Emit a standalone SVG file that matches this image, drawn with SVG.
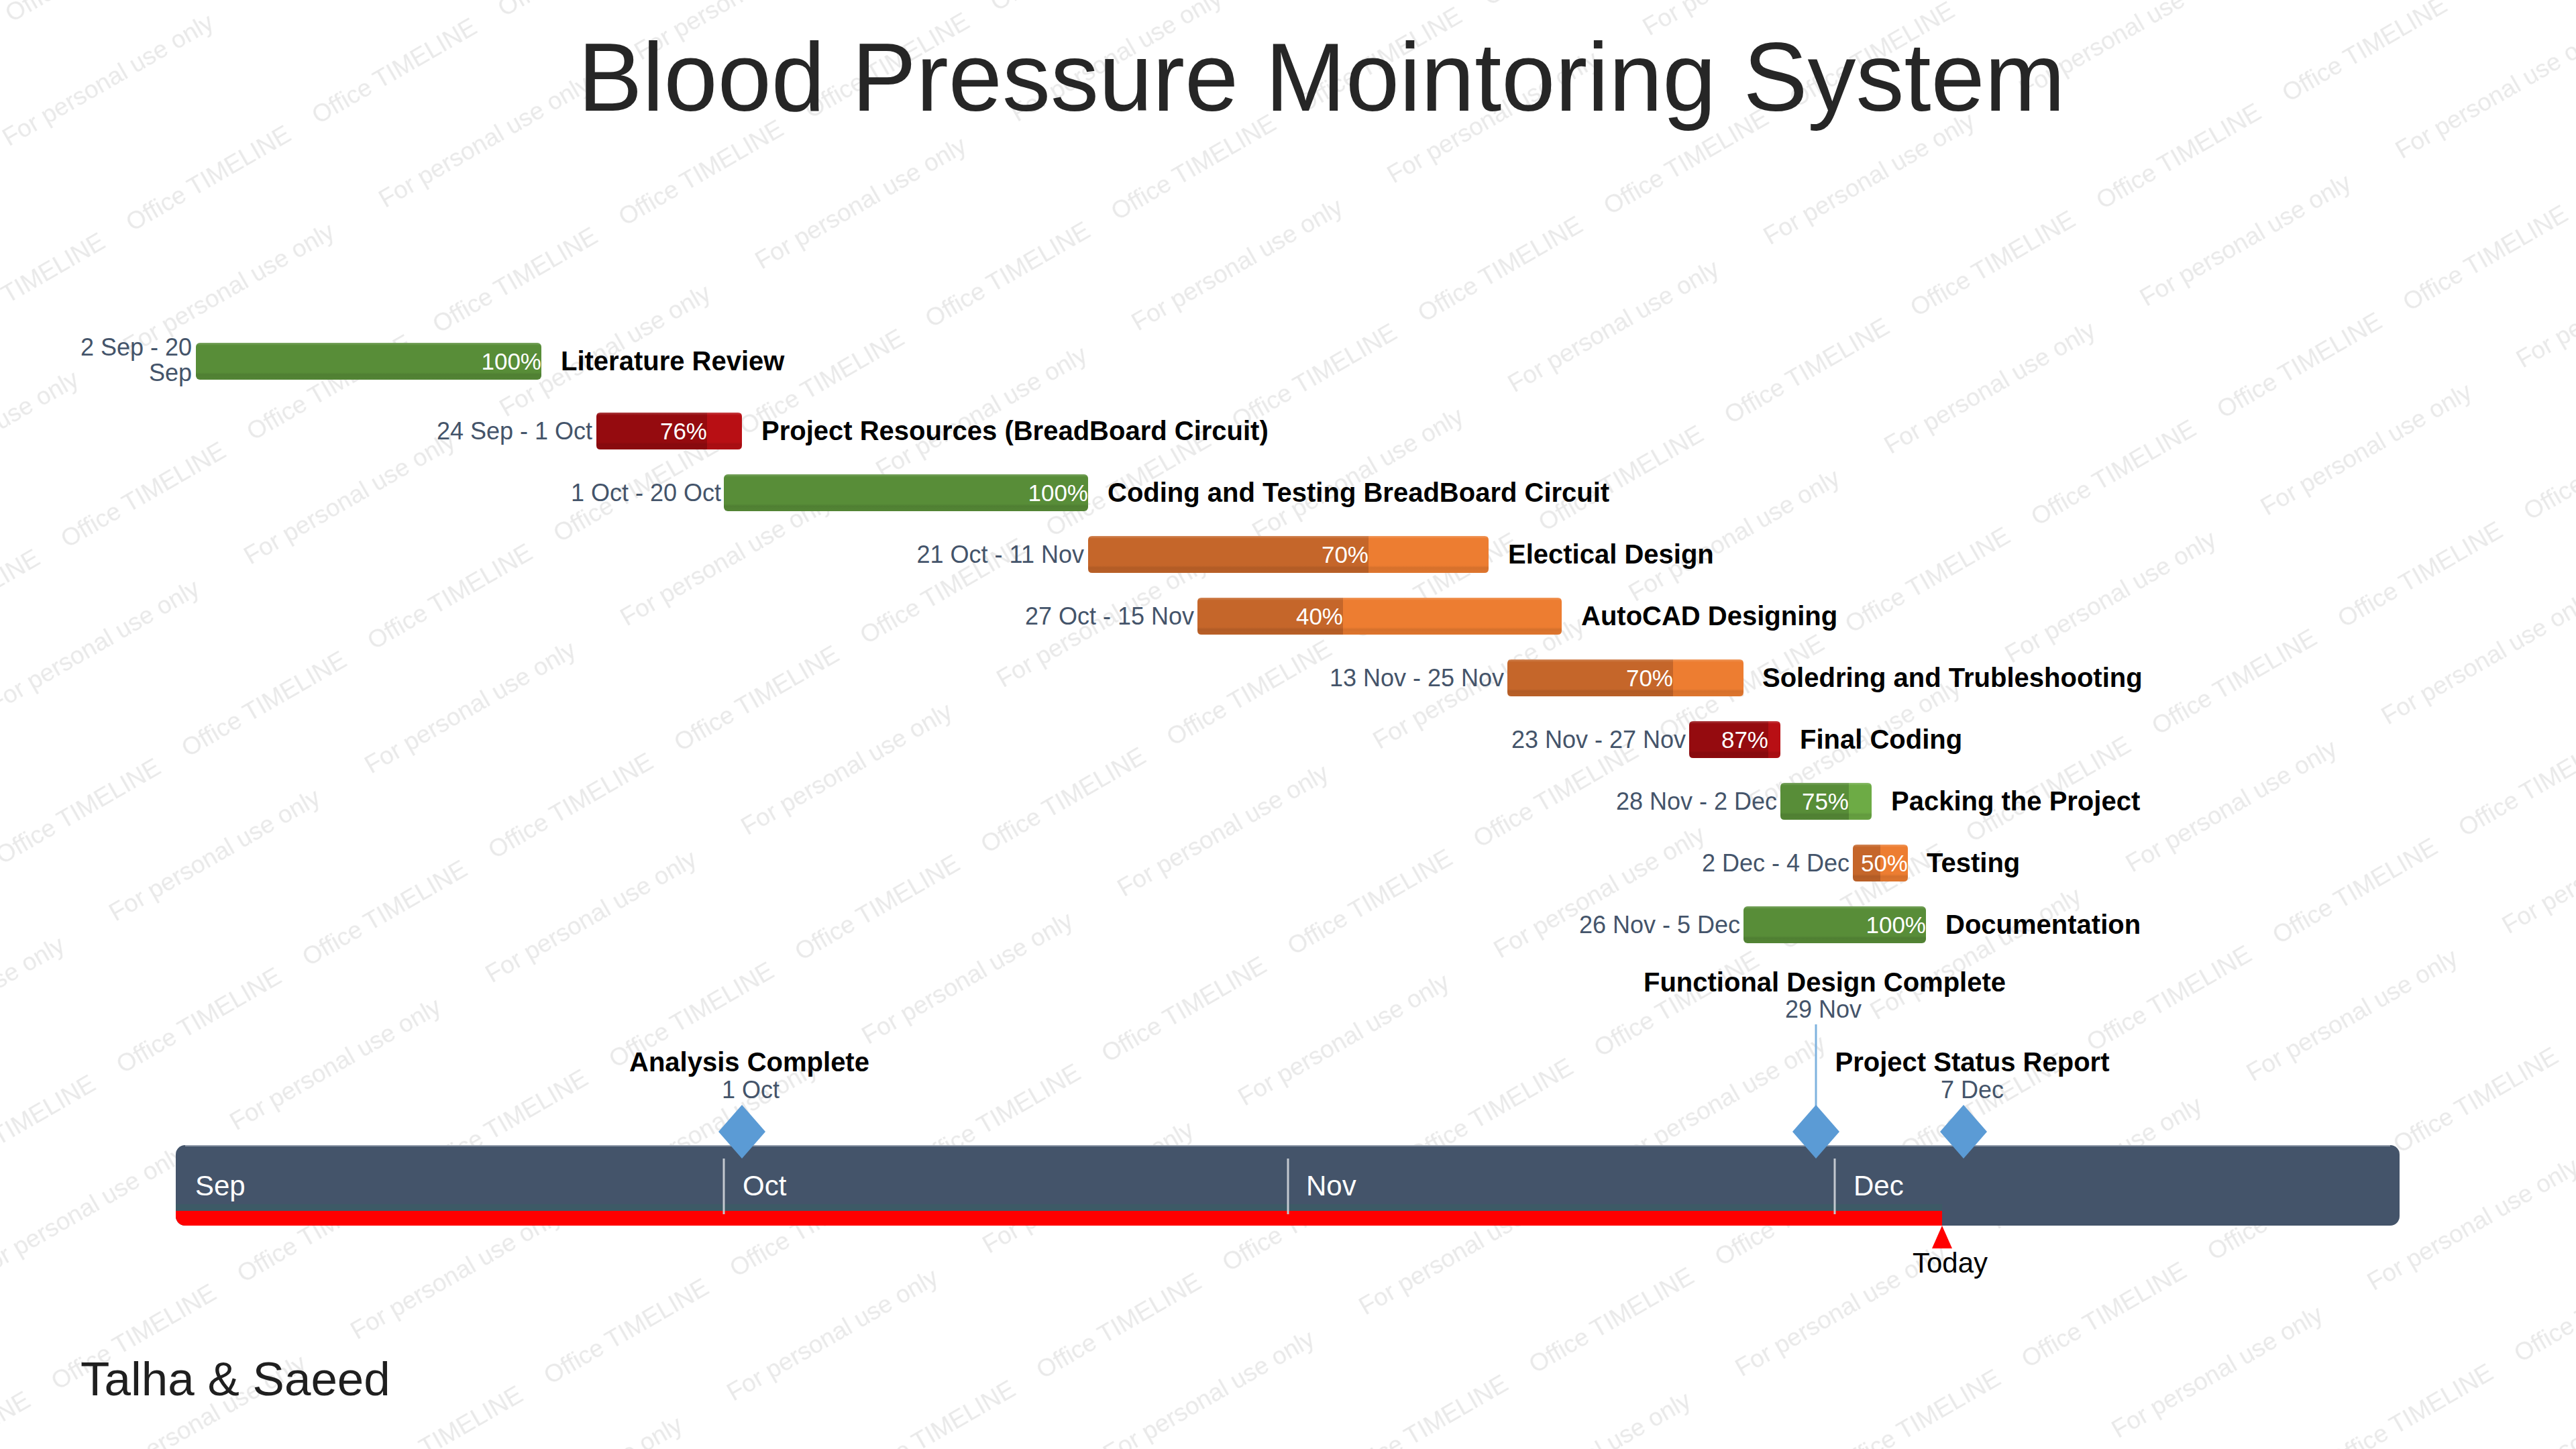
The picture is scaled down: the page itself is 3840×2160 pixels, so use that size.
<svg xmlns="http://www.w3.org/2000/svg" width="3840" height="2160" viewBox="0 0 3840 2160">
<style>
text{font-family:"Liberation Sans",Arial,sans-serif}
.wm{font-size:37px;fill:#e9e9e9}
.date{font-size:36px;fill:#44546a;text-anchor:end}
.pct{font-size:35px;fill:#ffffff;text-anchor:end}
.name{font-size:40px;font-weight:bold;fill:#000000}
.mtitle{font-size:40px;font-weight:bold;fill:#000000;text-anchor:middle}
.mdate{font-size:36px;fill:#44546a;text-anchor:middle}
.month{font-size:42px;fill:#ffffff}
.gd{fill:#588d38}.gr{fill:#6dab45}
.rd{fill:#950b0f}.rr{fill:#b80f14}
.od{fill:#c5662a}.or{fill:#ed7d31}
.sheen{fill:url(#sheen)}
.ms{fill:#5b9bd5}
.sep{stroke:#c3c8cf;stroke-width:3}
</style>
<defs>
<linearGradient id="sheen" x1="0" y1="0" x2="0" y2="1">
<stop offset="0" stop-color="#ffffff" stop-opacity="0.22"/>
<stop offset="0.07" stop-color="#ffffff" stop-opacity="0"/>
<stop offset="0.8" stop-color="#000000" stop-opacity="0"/>
<stop offset="0.86" stop-color="#000000" stop-opacity="0.1"/>
<stop offset="1" stop-color="#000000" stop-opacity="0.06"/>
</linearGradient>
<pattern id="wmA" patternUnits="userSpaceOnUse" x="-2" y="0" width="320" height="360" patternTransform="rotate(-30)">
<text class="wm" x="0" y="38" font-size="35">Office TIMELINE</text>
</pattern>
<pattern id="wmB" patternUnits="userSpaceOnUse" x="342" y="0" width="440" height="360" patternTransform="rotate(-30)">
<text class="wm" x="0" y="196" font-size="38">For personal use only</text>
</pattern>
<clipPath id="bandClip">
<rect x="262" y="1707" width="3315" height="120" rx="14"/>
</clipPath>
</defs>
<rect x="0" y="0" width="3840" height="2160" fill="#ffffff"/>
<g id="watermark">
<rect x="0" y="0" width="3840" height="2160" fill="url(#wmA)"/>
<rect x="0" y="0" width="3840" height="2160" fill="url(#wmB)"/>
</g>

<g id="title"><text x="1970" y="165" font-size="144" fill="#262626" text-anchor="middle">Blood Pressure Mointoring System</text></g>

<g id="task-literature-review">
<rect class="gd" x="292" y="511" width="515" height="55" rx="6"/>
<rect class="sheen" x="292" y="511" width="515" height="55" rx="6"/>
<text class="date" x="286" y="530">2 Sep - 20</text>
<text class="date" x="286" y="568">Sep</text>
<text class="pct" x="807" y="551">100%</text>
<text class="name" x="836" y="552">Literature Review</text>
</g>

<g id="task-project-resources">
<path class="rd" d="M895,615 H1054 V670 H895 Q889,670 889,664 V621 Q889,615 895,615 Z"/>
<path class="rr" d="M1054,615 H1100 Q1106,615 1106,621 V664 Q1106,670 1100,670 H1054 Z"/>
<rect class="sheen" x="889" y="615" width="217" height="55" rx="6"/>
<text class="date" x="883" y="655">24 Sep - 1 Oct</text>
<text class="pct" x="1054" y="655">76%</text>
<text class="name" x="1135" y="656">Project Resources (BreadBoard Circuit)</text>
</g>

<g id="task-coding-testing">
<rect class="gd" x="1079" y="707" width="543" height="55" rx="6"/>
<rect class="sheen" x="1079" y="707" width="543" height="55" rx="6"/>
<text class="date" x="1075" y="747">1 Oct - 20 Oct</text>
<text class="pct" x="1622" y="747">100%</text>
<text class="name" x="1651" y="748">Coding and Testing BreadBoard Circuit</text>
</g>

<g id="task-electical-design">
<path class="od" d="M1628,799 H2040 V854 H1628 Q1622,854 1622,848 V805 Q1622,799 1628,799 Z"/>
<path class="or" d="M2040,799 H2213 Q2219,799 2219,805 V848 Q2219,854 2213,854 H2040 Z"/>
<rect class="sheen" x="1622" y="799" width="597" height="55" rx="6"/>
<text class="date" x="1616" y="839">21 Oct - 11 Nov</text>
<text class="pct" x="2040" y="839">70%</text>
<text class="name" x="2248" y="840">Electical Design</text>
</g>

<g id="task-autocad">
<path class="od" d="M1791,891 H2002 V946 H1791 Q1785,946 1785,940 V897 Q1785,891 1791,891 Z"/>
<path class="or" d="M2002,891 H2322 Q2328,891 2328,897 V940 Q2328,946 2322,946 H2002 Z"/>
<rect class="sheen" x="1785" y="891" width="543" height="55" rx="6"/>
<text class="date" x="1780" y="931">27 Oct - 15 Nov</text>
<text class="pct" x="2002" y="931">40%</text>
<text class="name" x="2357" y="932">AutoCAD Designing</text>
</g>

<g id="task-soledring">
<path class="od" d="M2253,983 H2494 V1038 H2253 Q2247,1038 2247,1032 V989 Q2247,983 2253,983 Z"/>
<path class="or" d="M2494,983 H2593 Q2599,983 2599,989 V1032 Q2599,1038 2593,1038 H2494 Z"/>
<rect class="sheen" x="2247" y="983" width="352" height="55" rx="6"/>
<text class="date" x="2242" y="1023">13 Nov - 25 Nov</text>
<text class="pct" x="2494" y="1023">70%</text>
<text class="name" x="2627" y="1024">Soledring and Trubleshooting</text>
</g>

<g id="task-final-coding">
<path class="rd" d="M2524,1075 H2636 V1130 H2524 Q2518,1130 2518,1124 V1081 Q2518,1075 2524,1075 Z"/>
<path class="rr" d="M2636,1075 H2648 Q2654,1075 2654,1081 V1124 Q2654,1130 2648,1130 H2636 Z"/>
<rect class="sheen" x="2518" y="1075" width="136" height="55" rx="6"/>
<text class="date" x="2513" y="1115">23 Nov - 27 Nov</text>
<text class="pct" x="2636" y="1115">87%</text>
<text class="name" x="2683" y="1116">Final Coding</text>
</g>

<g id="task-packing">
<path class="gd" d="M2660,1167 H2756 V1222 H2660 Q2654,1222 2654,1216 V1173 Q2654,1167 2660,1167 Z"/>
<path class="gr" d="M2756,1167 H2784 Q2790,1167 2790,1173 V1216 Q2790,1222 2784,1222 H2756 Z"/>
<rect class="sheen" x="2654" y="1167" width="136" height="55" rx="6"/>
<text class="date" x="2649" y="1207">28 Nov - 2 Dec</text>
<text class="pct" x="2756" y="1207">75%</text>
<text class="name" x="2819" y="1208">Packing the Project</text>
</g>

<g id="task-testing">
<path class="od" d="M2768,1259 H2803 V1314 H2768 Q2762,1314 2762,1308 V1265 Q2762,1259 2768,1259 Z"/>
<path class="or" d="M2803,1259 H2838 Q2844,1259 2844,1265 V1308 Q2844,1314 2838,1314 H2803 Z"/>
<rect class="sheen" x="2762" y="1259" width="82" height="55" rx="6"/>
<text class="date" x="2757" y="1299">2 Dec - 4 Dec</text>
<text class="pct" x="2844" y="1299">50%</text>
<text class="name" x="2872" y="1300">Testing</text>
</g>

<g id="task-documentation">
<rect class="gd" x="2599" y="1351" width="272" height="55" rx="6"/>
<rect class="sheen" x="2599" y="1351" width="272" height="55" rx="6"/>
<text class="date" x="2594" y="1391">26 Nov - 5 Dec</text>
<text class="pct" x="2871" y="1391">100%</text>
<text class="name" x="2900" y="1392">Documentation</text>
</g>

<g id="timeline">
<rect x="262" y="1707" width="3315" height="120" rx="14" fill="#44546a"/>
<line x1="276" y1="1708" x2="3563" y2="1708" stroke="#8e99a8" stroke-width="2"/>
<g clip-path="url(#bandClip)">
<rect x="262" y="1795" width="2633" height="10" fill="#3d5a66"/>
<rect x="262" y="1805" width="2633" height="22" fill="#ff0000"/>
</g>
<line class="sep" x1="1079" y1="1727" x2="1079" y2="1810"/>
<line class="sep" x1="1920" y1="1727" x2="1920" y2="1810"/>
<line class="sep" x1="2735" y1="1727" x2="2735" y2="1810"/>
<text class="month" x="291" y="1782">Sep</text>
<text class="month" x="1107" y="1782">Oct</text>
<text class="month" x="1947" y="1782">Nov</text>
<text class="month" x="2763" y="1782">Dec</text>
</g>

<g id="today">
<polygon points="2895,1827 2880,1861 2910,1861" fill="#ff0000"/>
<text x="2907" y="1897" font-size="42" fill="#000000" text-anchor="middle">Today</text>
</g>

<g id="connectors">
<line x1="2707" y1="1527" x2="2707" y2="1650" stroke="#7fb2de" stroke-width="3"/>
</g>

<g id="milestone-analysis-complete">
<polygon class="ms" points="1106,1647 1141,1687 1106,1727 1071,1687"/>
<text class="mtitle" x="1117" y="1597">Analysis Complete</text>
<text class="mdate" x="1119" y="1637">1 Oct</text>
</g>

<g id="milestone-functional-design">
<polygon class="ms" points="2707,1647 2742,1687 2707,1727 2672,1687"/>
<text class="mtitle" x="2720" y="1478">Functional Design Complete</text>
<text class="mdate" x="2718" y="1517">29 Nov</text>
</g>

<g id="milestone-status-report">
<polygon class="ms" points="2927,1647 2962,1687 2927,1727 2892,1687"/>
<text class="mtitle" x="2940" y="1597">Project Status Report</text>
<text class="mdate" x="2940" y="1637">7 Dec</text>
</g>

<g id="footer"><text x="120" y="2080" font-size="71" fill="#1f1f1f">Talha &amp; Saeed</text></g>
</svg>
